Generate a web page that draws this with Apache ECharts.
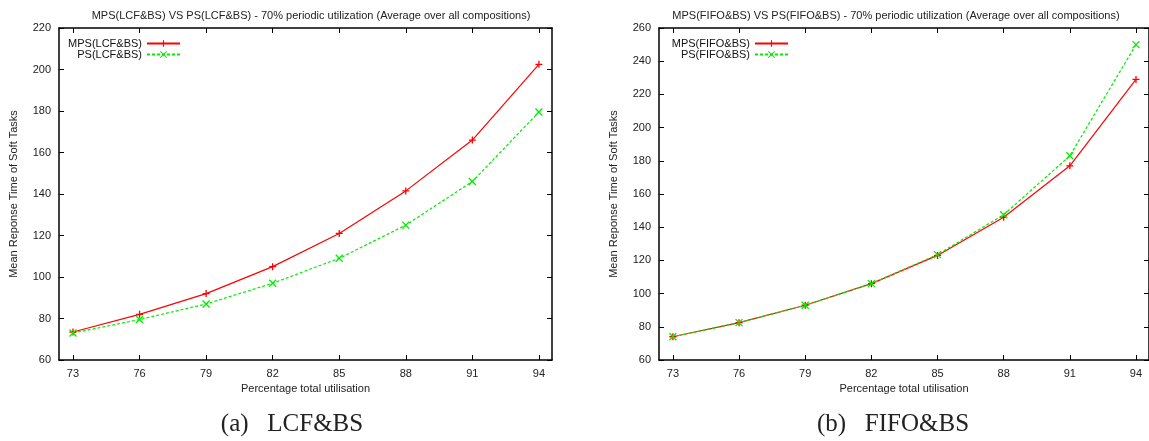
<!DOCTYPE html>
<html><head><meta charset="utf-8">
<script src="https://cdn.jsdelivr.net/npm/echarts@6/dist/echarts.min.js"></script>
<style>html,body{margin:0;padding:0;background:#fff}#c{width:1149px;height:441px}</style>
</head><body><div id="c"></div>
<script>
const xTicks = [73, 76, 79, 82, 85, 88, 91, 94];
const lcfMPS = [73.5, 82, 92, 105, 121, 141.5, 166, 202.5];
const lcfPS  = [73, 79.5, 87, 97, 109, 125, 146, 179.5];
const fifoMPS = [74, 82.5, 93, 106, 123, 146, 177, 229];
const fifoPS  = [74, 82.5, 93, 106, 123.5, 147.5, 183, 250];
const seriesNames = ['MPS(LCF&BS)', 'PS(LCF&BS)', 'MPS(FIFO&BS)', 'PS(FIFO&BS)'];
const titles = ['MPS(LCF&BS) VS PS(LCF&BS) - 70% periodic utilization (Average over all compositions)',
                'MPS(FIFO&BS) VS PS(FIFO&BS) - 70% periodic utilization (Average over all compositions)'];
const captions = ['(a)   LCF&BS', '(b)   FIFO&BS'];
const xName = 'Percentage total utilisation';
const yName = 'Mean Reponse Time of Soft Tasks';

const FONT = 'Liberation Sans';
const PLUS = 'path://M0,5L10,5M5,0L5,10';
const CROSS = 'path://M0,0L10,10M10,0L0,10';
const pairs = (vals) => xTicks.map((x, i) => [x, vals[i]]);

function xAxes(gi) {
  const base = {
    gridIndex: gi, type: 'value', min: 72.37, max: 94.59,
    axisLine: {show: true, lineStyle: {color: '#000', width: 1.5}},
    splitLine: {show: false},
    axisTick: {show: true, inside: true, length: 5, lineStyle: {color: '#000'}, customValues: xTicks},
  };
  return [
    Object.assign({}, base, {position: 'bottom',
      name: xName, nameLocation: 'middle', nameGap: 23,
      nameTextStyle: {fontFamily: FONT, fontSize: 11, color: '#222'},
      axisLabel: {fontFamily: FONT, fontSize: 11, color: '#222', margin: 8, customValues: xTicks}}),
    Object.assign({}, base, {position: 'top', axisLabel: {show: false}})
  ];
}
function yAxes(gi, max) {
  const base = {
    gridIndex: gi, type: 'value', min: 60, max: max, interval: 20,
    axisLine: {show: true, lineStyle: {color: '#000', width: 1.5}},
    splitLine: {show: false},
    axisTick: {show: true, inside: true, length: 5, lineStyle: {color: '#000'}},
  };
  return [
    Object.assign({}, base, {position: 'left',
      name: yName, nameLocation: 'middle', nameGap: 40, nameRotate: 90,
      nameTextStyle: {fontFamily: FONT, fontSize: 11, color: '#222'},
      axisLabel: {fontFamily: FONT, fontSize: 11, color: '#222', margin: 8}}),
    Object.assign({}, base, {position: 'right', axisLabel: {show: false}})
  ];
}
function mk(name, data, gi, isPS) {
  const col = isPS ? '#00ee00' : '#ff0000';
  return {
    name: name, type: 'line', xAxisIndex: gi * 2, yAxisIndex: gi * 2,
    data: data, symbol: isPS ? CROSS : PLUS, symbolSize: 7,
    showAllSymbol: true, animation: false,
    lineStyle: {color: col, width: 1.2, type: isPS ? [3, 2] : 'solid'},
    itemStyle: {color: col, borderColor: col, borderWidth: 1.3}
  };
}
function legendFor(names, left, w) {
  return {data: names, orient: 'vertical', left: left, top: 33, itemGap: 0,
    itemWidth: 33, itemHeight: 8, align: 'right',
    itemStyle: {borderWidth: 1.1},
    textStyle: {fontFamily: FONT, fontSize: 11, color: '#111', width: w, align: 'right', lineHeight: 11}};
}
const chart = echarts.init(document.getElementById('c'));
chart.setOption({
  backgroundColor: '#fff',
  animation: false,
  title: [
    {text: titles[0], left: 306, top: 5, textAlign: 'center', textStyle: {fontFamily: FONT, fontSize: 11, fontWeight: 'normal', color: '#222'}},
    {text: titles[1], left: 891, top: 5, textAlign: 'center', textStyle: {fontFamily: FONT, fontSize: 11, fontWeight: 'normal', color: '#222'}},
    {text: captions[0], left: 287, top: 407, textAlign: 'center', textStyle: {fontFamily: 'Liberation Serif', fontSize: 25, fontWeight: 'normal', color: '#222'}},
    {text: captions[1], left: 888, top: 407, textAlign: 'center', textStyle: {fontFamily: 'Liberation Serif', fontSize: 25, fontWeight: 'normal', color: '#222'}}
  ],
  legend: [
    legendFor([seriesNames[0], seriesNames[1]], 57, 80),
    legendFor([seriesNames[2], seriesNames[3]], 661, 84)
  ],
  grid: [
    {left: 59, top: 28, width: 493, height: 332},
    {left: 659, top: 28, width: 492, height: 332}
  ],
  xAxis: xAxes(0).concat(xAxes(1)),
  yAxis: yAxes(0, 220).concat(yAxes(1, 260)),
  series: [
    mk(seriesNames[0], pairs(lcfMPS), 0, false),
    mk(seriesNames[1], pairs(lcfPS), 0, true),
    mk(seriesNames[2], pairs(fifoMPS), 1, false),
    mk(seriesNames[3], pairs(fifoPS), 1, true)
  ]
});
</script></body></html>
